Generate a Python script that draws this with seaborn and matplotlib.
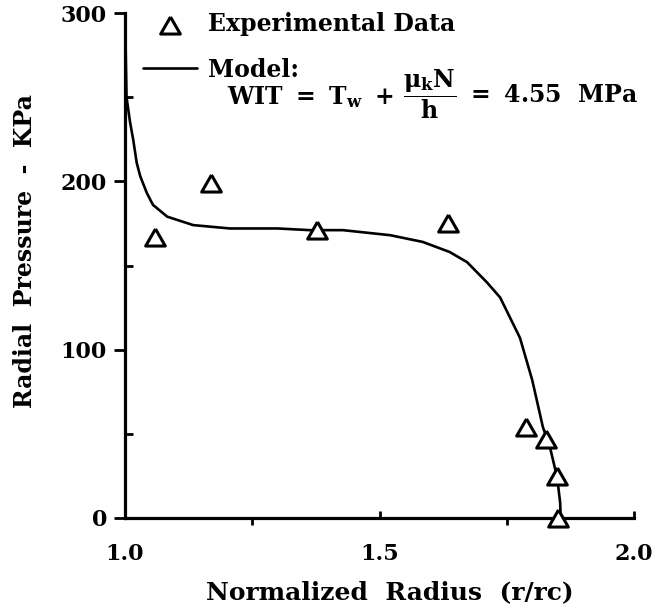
import numpy as np
import pandas as pd
import seaborn as sns
import matplotlib.pyplot as plt

# model curve
model_r = [1.000, 1.003, 1.010, 1.016, 1.023, 1.030, 1.043, 1.055, 1.083, 1.134,
           1.206, 1.300, 1.363, 1.428, 1.521, 1.585, 1.638, 1.672, 1.711, 1.737,
           1.776, 1.800, 1.821, 1.835, 1.849, 1.855, 1.856]
model_p = [300, 250, 235, 225, 211, 203, 193, 186, 179, 174,
           172, 172, 171, 171, 168, 164, 158, 152, 140, 131,
           107, 82, 54, 42, 24, 9, 0]

# experimental points
exp_r = [1.059, 1.168, 1.378, 1.635, 1.787, 1.827, 1.849, 1.850]
exp_p = [167, 199, 171, 175, 54, 47, 25, 0]

x_ticks = [1.0, 1.5, 2.0]
x_ticklabels = ["1.0", "1.5", "2.0"]
y_ticks = [0, 100, 200, 300]

sns.set_style("ticks")
plt.rcParams["font.family"] = ["DejaVu Serif"]
plt.rcParams["font.weight"] = "bold"
plt.rcParams["text.color"] = "black"
plt.rcParams["axes.labelcolor"] = "black"
plt.rcParams["axes.edgecolor"] = "black"
plt.rcParams["xtick.color"] = "black"
plt.rcParams["ytick.color"] = "black"
plt.rcParams["mathtext.fontset"] = "custom"
plt.rcParams["mathtext.rm"] = "DejaVu Serif:bold"
plt.rcParams["mathtext.it"] = "DejaVu Serif:bold"
plt.rcParams["mathtext.bf"] = "DejaVu Serif:bold"

model = pd.DataFrame({"r": model_r, "p": model_p})
exp = pd.DataFrame({"r": exp_r, "p": exp_p})

fig = plt.figure(figsize=(6.58, 6.15), dpi=100)
ax = fig.add_axes([125/658, 1-518/615, (634-125)/658, (518-13)/615])

tri = [(0, 0.87), (-1, -0.87), (1, -0.87), (0, 0.87)]

sns.scatterplot(data=exp, x="r", y="p", ax=ax, marker=tri, s=200,
                facecolor="white", edgecolor="black", linewidth=2.2,
                label="Experimental Data", clip_on=False, zorder=3)
sns.lineplot(data=model, x="r", y="p", ax=ax, color="black", linewidth=1.9,
             label="Model:", sort=False, estimator=None)

ax.set_xlim(1.0, 2.0)
ax.set_ylim(0, 300)
ax.set_xticks(x_ticks)
ax.set_xticklabels(x_ticklabels)
ax.set_xticks([1.25, 1.75], minor=True)
ax.set_yticks(y_ticks)
ax.set_yticks([50, 150, 250], minor=True)

for s in ["top", "right"]:
    ax.spines[s].set_visible(False)
for s in ["left", "bottom"]:
    ax.spines[s].set_linewidth(2.3)

ax.tick_params(axis="x", which="major", direction="in", length=5, width=2, pad=18, labelsize=16)
ax.tick_params(axis="x", which="minor", direction="out", length=5, width=2)
ax.tick_params(axis="y", which="major", direction="out", length=8, width=2, pad=5, labelsize=16)
ax.tick_params(axis="y", which="minor", direction="in", length=6, width=2)

ax.set_xlabel("Normalized  Radius  (r/rc)", fontsize=18, fontweight="bold")
ax.set_ylabel("Radial  Pressure  -  KPa", fontsize=17, fontweight="bold")
ax.xaxis.set_label_coords((390-125)/509, (518-580)/505)
ax.yaxis.set_label_coords((37-125)/509, (518-251)/505)

ax.legend(loc="upper left", bbox_to_anchor=(143/658, 1-12/615), bbox_transform=fig.transFigure,
          frameon=False, fontsize=17, handlelength=2.3, handletextpad=0.47,
          labelspacing=0.92, borderpad=0, borderaxespad=0)

# model formula, split so the fraction sits clear of the "Model:" label
t1 = fig.text(227/658, 1-104/615, r"$\mathrm{WIT\ =\ T_w\ +}$",
              fontsize=17, va="baseline", ha="left")
fig.canvas.draw()
bb = t1.get_window_extent()
fig.text((bb.x1 + 9)/658, 1-104/615, r"$\mathrm{\dfrac{\mu_k N}{h}\ =\ 4.55\ \ MPa}$",
         fontsize=17, va="baseline", ha="left")

fig.savefig("out.png", dpi=100)
